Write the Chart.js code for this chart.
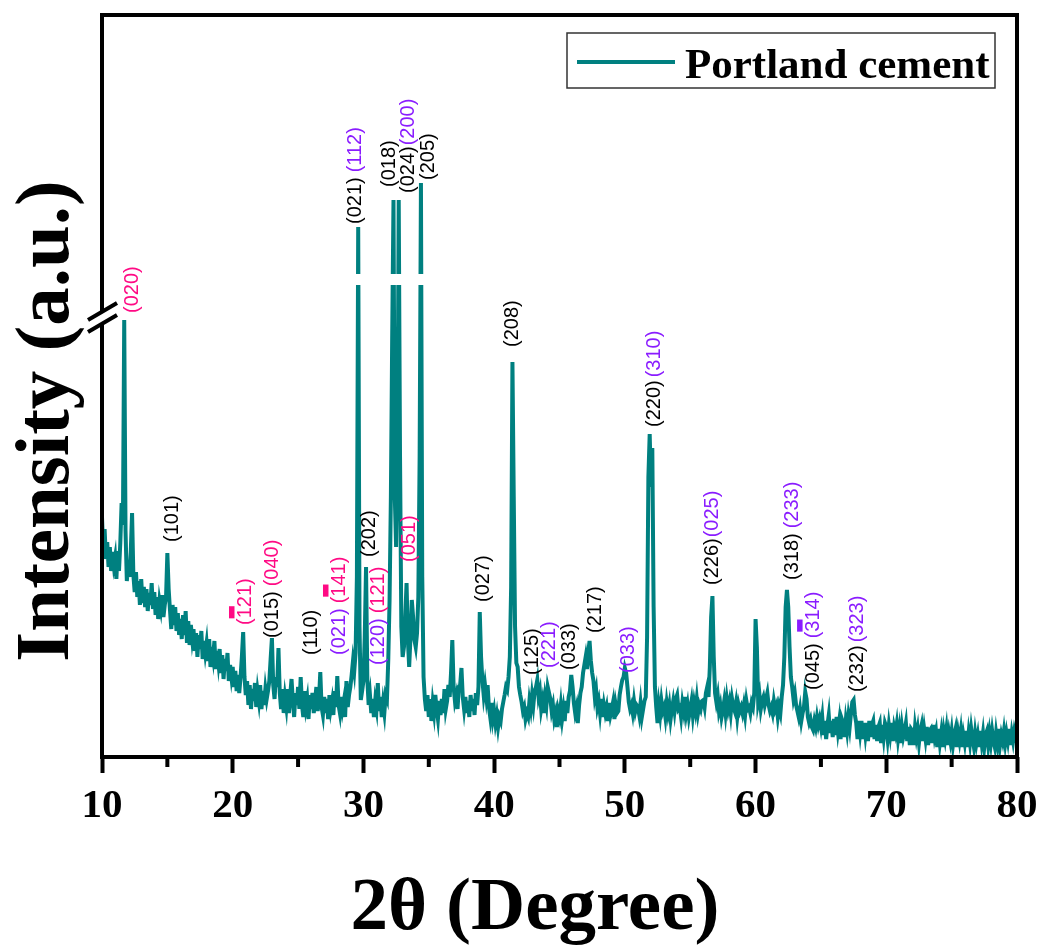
<!DOCTYPE html>
<html>
<head>
<meta charset="utf-8">
<script src="https://cdn.jsdelivr.net/npm/chart.js@4.4.1/dist/chart.umd.min.js"></script>
<style>
  html, body { margin: 0; padding: 0; background: #fff; }
  #xrd { display: block; }
</style>
</head>
<body>
<canvas id="xrd" width="1041" height="947"></canvas>
<script>
// scan grid: 2theta from 10 to 80 deg, 0.1 deg per step
const twoThetaStart = 10;
const twoThetaStep = 0.1;

// intensity (a.u.), one row per degree
const intensity = [
  240, 205, 228, 198, 215, 190, 210, 186, 205, 192,
  200, 178, 206, 186, 214, 254, 232, 437, 226, 176,
  196, 180, 205, 244, 182, 165, 185, 160, 176, 152,
  178, 154, 170, 150, 168, 146, 164, 152, 174, 148,
  165, 142, 160, 138, 156, 148, 162, 140, 152, 160,
  204, 168, 147, 128, 152, 132, 150, 126, 144, 122,
  138, 118, 142, 122, 146, 114, 136, 112, 132, 118,
  128, 106, 124, 100, 122, 108, 126, 98, 116, 104,
  114, 96, 118, 90, 110, 100, 116, 88, 106, 94,
  108, 84, 102, 78, 98, 86, 104, 76, 92, 80,
  90, 70, 86, 66, 82, 64, 80, 100, 125, 80,
  62, 76, 52, 72, 48, 68, 56, 74, 50, 66,
  56, 72, 48, 66, 52, 68, 58, 66, 76, 98,
  119, 72, 58, 80, 70, 109, 64, 48, 68, 44,
  60, 50, 68, 44, 62, 78, 56, 40, 64, 52,
  70, 48, 80, 52, 40, 66, 50, 58, 38, 62,
  48, 64, 44, 56, 70, 46, 58, 85, 50, 42,
  60, 44, 58, 38, 62, 48, 56, 42, 66, 50,
  81, 52, 44, 60, 48, 56, 40, 76, 50, 62,
  70, 82, 96, 86, 104, 180, 530, 130, 57, 66,
  76, 120, 190, 77, 52, 62, 44, 58, 40, 56,
  48, 74, 46, 60, 40, 54, 44, 62, 58, 97,
  157, 260, 420, 557, 260, 210, 300, 557, 300, 130,
  100, 110, 140, 174, 117, 90, 120, 157, 140, 117,
  110, 124, 160, 300, 574, 180, 80, 58, 46, 62,
  40, 58, 36, 54, 44, 62, 48, 38, 56, 42,
  58, 44, 68, 48, 56, 72, 60, 84, 117, 70,
  56, 62, 48, 70, 72, 89, 60, 48, 60, 44,
  56, 40, 62, 46, 58, 42, 64, 52, 70, 145,
  100, 77, 62, 72, 60, 72, 50, 40, 54, 38,
  46, 34, 42, 30, 40, 36, 48, 55, 62, 70,
  67, 80, 100, 170, 395, 260, 130, 94, 90, 70,
  62, 55, 46, 50, 38, 44, 40, 56, 48, 62,
  52, 66, 70, 77, 60, 66, 48, 56, 44, 60,
  52, 70, 64, 58, 46, 52, 38, 44, 30, 46,
  40, 52, 38, 48, 36, 56, 44, 60, 66, 82,
  70, 54, 44, 50, 34, 52, 64, 70, 84, 92,
  100, 88, 105, 116, 96, 84, 76, 60, 67, 50,
  56, 44, 58, 40, 52, 44, 50, 36, 54, 42,
  48, 55, 38, 52, 44, 46, 62, 70, 77, 80,
  89, 84, 70, 55, 48, 52, 44, 56, 46, 52,
  50, 42, 54, 40, 48, 56, 60, 120, 280, 323,
  270, 309, 150, 70, 50, 34, 52, 42, 56, 46,
  50, 40, 54, 44, 52, 38, 48, 56, 46, 58,
  62, 48, 50, 40, 54, 46, 60, 44, 52, 40,
  48, 56, 42, 54, 46, 58, 44, 52, 48, 56,
  57, 50, 64, 70, 60, 90, 140, 161, 100, 64,
  55, 62, 46, 52, 40, 47, 56, 44, 58, 48,
  55, 44, 58, 50, 46, 54, 40, 52, 46, 50,
  44, 52, 42, 56, 48, 50, 44, 54, 50, 64,
  138, 110, 55, 62, 48, 56, 60, 52, 58, 64,
  52, 46, 50, 44, 56, 48, 52, 40, 50, 44,
  60, 72, 100, 150, 167, 150, 110, 80, 70, 58,
  64, 52, 46, 40, 48, 36, 44, 50, 65, 58,
  40, 34, 38, 30, 27, 36, 30, 40, 32, 38,
  30, 40, 22, 36, 18, 32, 42, 24, 36, 20,
  38, 22, 40, 26, 36, 18, 38, 34, 20, 36,
  26, 40, 30, 44, 55, 57, 42, 34, 18, 36,
  24, 36, 18, 34, 22, 34, 16, 36, 20, 32,
  36, 18, 32, 16, 30, 34, 14, 32, 20, 34,
  30, 18, 32, 22, 34, 16, 30, 24, 33, 18,
  28, 14, 30, 20, 26, 34, 16, 30, 12, 28,
  26, 12, 30, 20, 28, 14, 26, 32, 16, 28,
  18, 30, 12, 26, 28, 14, 32, 20, 26, 10,
  28, 14, 24, 10, 26, 18, 28, 12, 24, 16,
  26, 12, 22, 28, 10, 24, 16, 26, 10, 22,
  14, 26, 10, 24, 14, 28, 18, 10, 24, 14,
  22, 10, 26, 14, 24, 10, 22, 26, 12, 24,
  14, 26, 16, 10, 24, 14, 28, 12, 22, 16,
  26, 14, 24, 16, 28, 12, 24, 16, 26, 20,
  30
];

const minorTicks = [15, 25, 35, 45, 55, 65, 75];

// hkl annotations: angle, intensity where the text starts, parts bottom-to-top
// c: k = black, p = pink, v = violet; bar = index of the barred digit
const hklLabels = [
  { at: 12.30, base: 444, parts: [{ t: '(020)', c: 'p' }] },
  { at: 15.43, base: 215, parts: [{ t: '(101)', c: 'k' }] },
  { at: 20.94, base: 132, parts: [{ t: '(121)', c: 'p', bar: 1 }] },
  { at: 23.08, base: 119, parts: [{ t: '(015)', c: 'k' }, { t: '(040)', c: 'p' }] },
  { at: 26.00, base: 102, parts: [{ t: '(110)', c: 'k' }] },
  { at: 28.13, base: 102, parts: [{ t: '(021)', c: 'v' }, { t: '(141)', c: 'p', bar: 1 }] },
  { at: 29.36, base: 533, parts: [{ t: '(021)', c: 'k' }, { t: '(112)', c: 'v' }] },
  { at: 30.50, base: 200, parts: [{ t: '(202)', c: 'k' }] },
  { at: 31.19, base: 92, parts: [{ t: '(120)', c: 'v' }, { t: '(121)', c: 'p' }] },
  { at: 32.03, base: 570, parts: [{ t: '(018)', c: 'k' }] },
  { at: 33.41, base: 564, parts: [{ t: '(024)', c: 'k' }, { t: '(200)', c: 'v' }], gap: 1 },
  { at: 33.56, base: 195, parts: [{ t: '(051)', c: 'p' }] },
  { at: 34.94, base: 577, parts: [{ t: '(205)', c: 'k' }] },
  { at: 39.15, base: 155, parts: [{ t: '(027)', c: 'k' }] },
  { at: 41.44, base: 410, parts: [{ t: '(208)', c: 'k' }] },
  { at: 42.90, base: 82, parts: [{ t: '(125)', c: 'k' }] },
  { at: 44.27, base: 89, parts: [{ t: '(221)', c: 'v' }] },
  { at: 45.80, base: 87, parts: [{ t: '(033)', c: 'k' }] },
  { at: 47.72, base: 124, parts: [{ t: '(217)', c: 'k' }] },
  { at: 50.24, base: 84, parts: [{ t: '(033)', c: 'v' }] },
  { at: 52.23, base: 330, parts: [{ t: '(220)', c: 'k' }, { t: '(310)', c: 'v' }], gap: 3 },
  { at: 56.74, base: 172, parts: [{ t: '(226)', c: 'k' }, { t: '(025)', c: 'v' }], gap: 1 },
  { at: 62.79, base: 177, parts: [{ t: '(318)', c: 'k' }, { t: '(233)', c: 'v' }] },
  { at: 64.40, base: 67, parts: [{ t: '(045)', c: 'k' }, { t: '(314)', c: 'v', bar: 1 }] },
  { at: 67.76, base: 65, parts: [{ t: '(232)', c: 'k' }, { t: '(323)', c: 'v' }], gap: 3 }
];

const teal = '#008080';
const hklColors = { k: '#000000', p: '#FF0A84', v: '#8A1CFF' };
const serif = '"Liberation Serif", "Times New Roman", serif';

const points = intensity.map((v, i) => ({
  x: +(twoThetaStart + i * twoThetaStep).toFixed(2),
  y: v
}));

const decorPlugin = {
  id: 'decor',
  afterDatasetsDraw(chart) {
    const { ctx, chartArea: a, scales: { x, y } } = chart;
    ctx.save();

    // broken tall peaks
    const gx1 = x.getPixelForValue(29.2), gx2 = x.getPixelForValue(34.8);
    const gy1 = y.getPixelForValue(483), gy2 = y.getPixelForValue(472);
    ctx.fillStyle = '#fff';
    ctx.fillRect(gx1, gy1, gx2 - gx1, gy2 - gy1);

    // frame
    ctx.strokeStyle = '#000';
    ctx.lineWidth = 4;
    ctx.strokeRect(a.left, a.top, a.right - a.left, a.bottom - a.top);

    // minor ticks
    minorTicks.forEach(v => {
      const px = x.getPixelForValue(v);
      ctx.beginPath();
      ctx.moveTo(px, a.bottom);
      ctx.lineTo(px, a.bottom + 10);
      ctx.stroke();
    });

    // axis break on the y axis
    const by = y.getPixelForValue(439);
    const L = a.left;
    ctx.fillStyle = '#fff';
    ctx.beginPath();
    ctx.moveTo(L - 14, by + 2);
    ctx.lineTo(L + 15, by - 15);
    ctx.lineTo(L + 15, by - 3);
    ctx.lineTo(L - 14, by + 14);
    ctx.closePath();
    ctx.fill();
    ctx.beginPath();
    ctx.moveTo(L - 14, by + 2); ctx.lineTo(L + 15, by - 15);
    ctx.moveTo(L - 14, by + 14); ctx.lineTo(L + 15, by - 3);
    ctx.stroke();

    // hkl labels
    ctx.font = '20px "Liberation Sans", Arial, sans-serif';
    ctx.textBaseline = 'middle';
    ctx.textAlign = 'left';
    hklLabels.forEach(lab => {
      const px = x.getPixelForValue(lab.at);
      const py = y.getPixelForValue(lab.base);
      const gap = lab.gap !== undefined ? lab.gap : 5;
      ctx.save();
      ctx.translate(px, py);
      ctx.rotate(-Math.PI / 2);
      let off = 0;
      lab.parts.forEach(p => {
        ctx.fillStyle = hklColors[p.c];
        ctx.fillText(p.t, off, 0);
        if (p.bar !== undefined) {
          const w0 = ctx.measureText(p.t.slice(0, p.bar)).width;
          const w1 = ctx.measureText(p.t.slice(0, p.bar + 1)).width;
          ctx.fillRect(off + w0, -16, w1 - w0 + 1, 5.5);
        }
        off += ctx.measureText(p.t).width + gap;
      });
      ctx.restore();
    });

    // legend
    const bx = a.right - 450, bw = 428, byy = a.top + 18, bh = 55;
    ctx.fillStyle = '#fff';
    ctx.fillRect(bx, byy, bw, bh);
    ctx.strokeStyle = '#333';
    ctx.lineWidth = 1.5;
    ctx.strokeRect(bx, byy, bw, bh);
    ctx.strokeStyle = teal;
    ctx.lineWidth = 4;
    ctx.beginPath();
    ctx.moveTo(bx + 10, byy + 29);
    ctx.lineTo(bx + 108, byy + 29);
    ctx.stroke();
    ctx.fillStyle = '#000';
    ctx.font = 'bold 43px ' + serif;
    ctx.textBaseline = 'alphabetic';
    ctx.fillText(chart.data.datasets[0].label, bx + 118, byy + 45);

    // axis titles
    ctx.font = 'bold 75px ' + serif;
    ctx.textAlign = 'center';
    ctx.fillText('2θ (Degree)', a.left + 433, a.bottom + 172);
    ctx.font = 'bold 77px ' + serif;
    ctx.save();
    ctx.translate(a.left - 34, a.top + 406);
    ctx.rotate(-Math.PI / 2);
    ctx.fillText('Intensity (a.u.)', 0, 0);
    ctx.restore();

    ctx.restore();
  }
};

new Chart(document.getElementById('xrd'), {
  type: 'line',
  data: {
    datasets: [{
      label: 'Portland cement',
      data: points,
      borderColor: teal,
      borderWidth: 4,
      pointRadius: 0,
      tension: 0,
      fill: false
    }]
  },
  options: {
    responsive: false,
    animation: false,
    devicePixelRatio: 1,
    layout: { padding: { top: 15, right: 24, left: 0, bottom: 0 } },
    plugins: {
      legend: { display: false },
      tooltip: { enabled: false }
    },
    scales: {
      x: {
        type: 'linear',
        min: 10,
        max: 80,
        ticks: {
          stepSize: 10,
          autoSkip: false,
          maxRotation: 0,
          padding: 9,
          color: '#000',
          font: { family: serif, size: 41, weight: 'bold' }
        },
        grid: {
          drawOnChartArea: false,
          tickLength: 16,
          tickWidth: 4,
          tickColor: '#000'
        },
        border: { display: false },
        afterFit: s => {
          s.height = 190;
          s.paddingLeft = 0;
          s.paddingRight = 0;
        }
      },
      y: {
        min: 0,
        max: 742,
        ticks: { display: false },
        grid: { display: false },
        border: { display: false },
        afterFit: s => { s.width = 102; }
      }
    }
  },
  plugins: [decorPlugin]
});
</script>
</body>
</html>
